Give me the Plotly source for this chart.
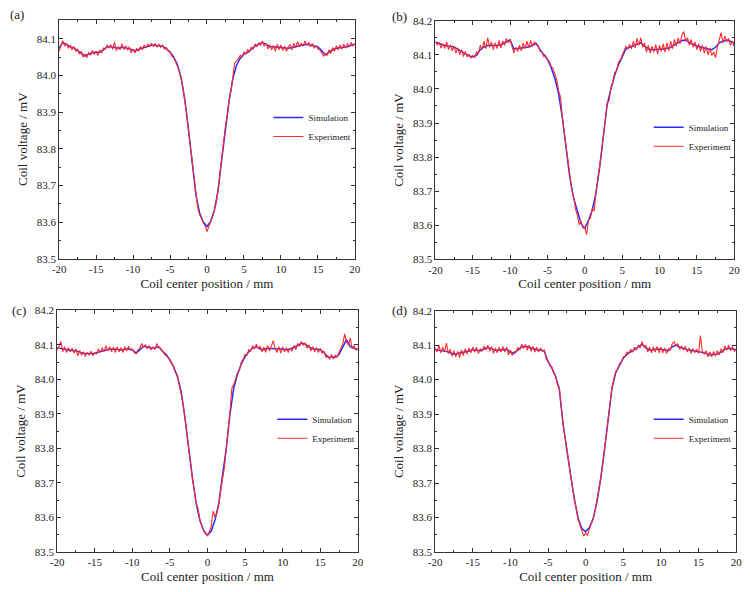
import plotly.graph_objects as go

# ---------------- data ----------------
sim_a = [84.074, 84.090, 84.085, 84.078, 84.075, 84.068, 84.060, 84.053,
         84.058, 84.062, 84.063, 84.063, 84.070, 84.078, 84.078, 84.077,
         84.074, 84.077, 84.076, 84.073, 84.068, 84.068, 84.073, 84.077,
         84.080, 84.083, 84.082, 84.081, 84.080, 84.073, 84.064, 84.050,
         84.030, 83.993, 83.935, 83.852, 83.758, 83.675, 83.625, 83.600,
         83.588, 83.602, 83.633, 83.685, 83.772, 83.858, 83.932, 83.992,
         84.028, 84.047, 84.058, 84.063, 84.072, 84.080, 84.085, 84.090,
         84.085, 84.078, 84.078, 84.076, 84.076, 84.075, 84.074, 84.076,
         84.079, 84.081, 84.083, 84.085, 84.083, 84.080, 84.078, 84.068,
         84.056, 84.063, 84.070, 84.074, 84.075, 84.076, 84.078, 84.082,
         84.085]
exp_a = [84.066, 84.084, 84.095, 84.080, 84.088, 84.074, 84.083, 84.070,
         84.079, 84.066, 84.072, 84.058, 84.066, 84.050, 84.058, 84.049,
         84.063, 84.055, 84.068, 84.057, 84.066, 84.055, 84.069, 84.061,
         84.075, 84.072, 84.083, 84.074, 84.084, 84.071, 84.090, 84.068,
         84.079, 84.070, 84.086, 84.071, 84.081, 84.069, 84.078, 84.062,
         84.072, 84.061, 84.074, 84.066, 84.079, 84.070, 84.083, 84.075,
         84.086, 84.078, 84.088, 84.079, 84.087, 84.077, 84.085, 84.076,
         84.083, 84.072, 84.076, 84.066, 84.066, 84.052, 84.048, 84.037,
         84.026, 84.014, 83.992, 83.968, 83.930, 83.898, 83.850, 83.806,
         83.758, 83.712, 83.668, 83.640, 83.620, 83.612, 83.598, 83.590,
         83.574, 83.588, 83.597, 83.615, 83.632, 83.652, 83.690, 83.728,
         83.780, 83.818, 83.862, 83.892, 83.935, 83.958, 83.996, 84.034,
         84.040, 84.045, 84.055, 84.050, 84.064, 84.058, 84.070, 84.064,
         84.078, 84.071, 84.086, 84.078, 84.090, 84.082, 84.094, 84.080,
         84.088, 84.072, 84.084, 84.070, 84.082, 84.066, 84.085, 84.070,
         84.083, 84.068, 84.080, 84.066, 84.078, 84.084, 84.070, 84.088,
         84.076, 84.092, 84.078, 84.088, 84.080, 84.094, 84.082, 84.090,
         84.078, 84.087, 84.074, 84.082, 84.072, 84.070, 84.062, 84.052,
         84.060, 84.055, 84.070, 84.060, 84.076, 84.066, 84.081, 84.070,
         84.083, 84.072, 84.086, 84.074, 84.087, 84.078, 84.090, 84.080,
         84.088]

sim_b = [84.137, 84.133, 84.128, 84.126, 84.125, 84.123, 84.116, 84.110,
         84.104, 84.097, 84.094, 84.098, 84.115, 84.123, 84.127, 84.127,
         84.126, 84.128, 84.132, 84.138, 84.144, 84.117, 84.118, 84.120,
         84.121, 84.123, 84.128, 84.133, 84.115, 84.100, 84.087, 84.062,
         84.030, 83.985, 83.915, 83.825, 83.740, 83.680, 83.640, 83.605,
         83.591, 83.615, 83.645, 83.695, 83.772, 83.870, 83.955, 84.000,
         84.040, 84.070, 84.095, 84.117, 84.122, 84.127, 84.130, 84.135,
         84.125, 84.117, 84.115, 84.115, 84.115, 84.117, 84.119, 84.121,
         84.130, 84.137, 84.142, 84.143, 84.136, 84.130, 84.126, 84.122,
         84.120, 84.117, 84.115, 84.122, 84.135, 84.140, 84.143, 84.140,
         84.135]
exp_b = [84.140, 84.128, 84.137, 84.120, 84.132, 84.118, 84.138, 84.115,
         84.130, 84.112, 84.125, 84.105, 84.120, 84.100, 84.115, 84.095,
         84.110, 84.094, 84.102, 84.090, 84.098, 84.092, 84.108, 84.105,
         84.128, 84.115, 84.140, 84.118, 84.150, 84.122, 84.138, 84.115,
         84.135, 84.118, 84.142, 84.120, 84.140, 84.128, 84.148, 84.135,
         84.145, 84.125, 84.105, 84.122, 84.110, 84.128, 84.112, 84.135,
         84.118, 84.140, 84.120, 84.142, 84.125, 84.138, 84.130, 84.126,
         84.110, 84.108, 84.095, 84.098, 84.085, 84.080, 84.066, 84.060,
         84.040, 84.026, 83.994, 83.975, 83.915, 83.872, 83.822, 83.780,
         83.733, 83.705, 83.685, 83.648, 83.630, 83.602, 83.612, 83.592,
         83.594, 83.573, 83.618, 83.622, 83.650, 83.642, 83.698, 83.730,
         83.775, 83.818, 83.872, 83.912, 83.958, 83.965, 84.005, 84.020,
         84.048, 84.052, 84.078, 84.085, 84.100, 84.112, 84.125, 84.118,
         84.130, 84.118, 84.140, 84.120, 84.148, 84.128, 84.150, 84.122,
         84.135, 84.108, 84.128, 84.105, 84.125, 84.108, 84.130, 84.102,
         84.128, 84.110, 84.132, 84.108, 84.135, 84.112, 84.140, 84.118,
         84.145, 84.125, 84.150, 84.132, 84.158, 84.168, 84.140, 84.150,
         84.128, 84.145, 84.122, 84.138, 84.115, 84.132, 84.110, 84.128,
         84.105, 84.125, 84.100, 84.120, 84.098, 84.108, 84.092, 84.122,
         84.140, 84.165, 84.135, 84.155, 84.138, 84.148, 84.128, 84.140,
         84.125]

sim_c = [84.092, 84.089, 84.087, 84.085, 84.084, 84.083, 84.079, 84.075,
         84.075, 84.075, 84.075, 84.079, 84.083, 84.085, 84.087, 84.088,
         84.087, 84.085, 84.087, 84.089, 84.086, 84.076, 84.085, 84.096,
         84.094, 84.091, 84.091, 84.095, 84.082, 84.072, 84.057, 84.036,
         84.008, 83.964, 83.890, 83.800, 83.715, 83.640, 83.590, 83.561,
         83.548, 83.560, 83.592, 83.640, 83.715, 83.800, 83.900, 83.975,
         84.015, 84.045, 84.066, 84.080, 84.090, 84.095, 84.088, 84.086,
         84.090, 84.090, 84.089, 84.088, 84.087, 84.086, 84.088, 84.092,
         84.098, 84.105, 84.102, 84.094, 84.089, 84.087, 84.086, 84.078,
         84.065, 84.064, 84.064, 84.072, 84.095, 84.115, 84.095, 84.090,
         84.086]
exp_c = [84.085, 84.098, 84.110, 84.080, 84.095, 84.078, 84.092, 84.080,
         84.090, 84.076, 84.088, 84.068, 84.084, 84.070, 84.080, 84.066,
         84.078, 84.070, 84.082, 84.068, 84.078, 84.074, 84.088, 84.078,
         84.092, 84.080, 84.098, 84.082, 84.095, 84.080, 84.093, 84.078,
         84.094, 84.080, 84.092, 84.078, 84.095, 84.082, 84.096, 84.084,
         84.088, 84.078, 84.074, 84.086, 84.090, 84.104, 84.094, 84.100,
         84.088, 84.098, 84.085, 84.094, 84.086, 84.104, 84.092, 84.090,
         84.080, 84.074, 84.068, 84.064, 84.055, 84.044, 84.036, 84.020,
         84.012, 83.985, 83.962, 83.930, 83.888, 83.848, 83.802, 83.755,
         83.712, 83.680, 83.640, 83.625, 83.592, 83.578, 83.560, 83.552,
         83.546, 83.558, 83.574, 83.618, 83.600, 83.612, 83.635, 83.675,
         83.712, 83.745, 83.798, 83.848, 83.908, 83.975, 83.985, 84.002,
         84.020, 84.026, 84.050, 84.058, 84.072, 84.070, 84.086, 84.082,
         84.098, 84.088, 84.102, 84.090, 84.096, 84.080, 84.094, 84.078,
         84.098, 84.082, 84.096, 84.112, 84.090, 84.078, 84.095, 84.076,
         84.094, 84.080, 84.092, 84.078, 84.090, 84.082, 84.098, 84.086,
         84.104, 84.096, 84.110, 84.098, 84.106, 84.090, 84.100, 84.082,
         84.095, 84.080, 84.092, 84.078, 84.090, 84.076, 84.082, 84.064,
         84.068, 84.058, 84.072, 84.060, 84.070, 84.064, 84.078, 84.090,
         84.102, 84.132, 84.108, 84.100, 84.120, 84.090, 84.098, 84.085,
         84.092]

sim_d = [84.087, 84.086, 84.085, 84.082, 84.078, 84.074, 84.076, 84.078,
         84.080, 84.083, 84.087, 84.086, 84.084, 84.089, 84.093, 84.090,
         84.085, 84.085, 84.087, 84.088, 84.080, 84.076, 84.086, 84.095,
         84.097, 84.094, 84.089, 84.087, 84.086, 84.083, 84.052, 84.034,
         84.010, 83.972, 83.872, 83.790, 83.722, 83.655, 83.597, 83.568,
         83.559, 83.571, 83.597, 83.645, 83.712, 83.795, 83.893, 83.975,
         84.020, 84.041, 84.062, 84.074, 84.080, 84.087, 84.095, 84.103,
         84.092, 84.086, 84.087, 84.089, 84.088, 84.086, 84.084, 84.095,
         84.100, 84.094, 84.090, 84.087, 84.085, 84.083, 84.082, 84.081,
         84.077, 84.072, 84.073, 84.074, 84.080, 84.088, 84.091, 84.089,
         84.087]
exp_d = [84.092, 84.080, 84.100, 84.078, 84.094, 84.080, 84.106, 84.076,
         84.088, 84.068, 84.084, 84.066, 84.082, 84.064, 84.086, 84.070,
         84.090, 84.074, 84.092, 84.078, 84.095, 84.080, 84.094, 84.076,
         84.090, 84.082, 84.098, 84.086, 84.100, 84.082, 84.096, 84.076,
         84.092, 84.078, 84.094, 84.080, 84.096, 84.080, 84.094, 84.072,
         84.086, 84.070, 84.080, 84.082, 84.094, 84.086, 84.103, 84.090,
         84.102, 84.086, 84.100, 84.082, 84.096, 84.080, 84.094, 84.080,
         84.092, 84.082, 84.086, 84.060, 84.056, 84.040, 84.038, 84.018,
         84.012, 83.985, 83.978, 83.920, 83.870, 83.835, 83.790, 83.760,
         83.725, 83.685, 83.652, 83.625, 83.594, 83.578, 83.562, 83.546,
         83.556, 83.548, 83.568, 83.580, 83.596, 83.618, 83.648, 83.680,
         83.715, 83.752, 83.798, 83.845, 83.898, 83.938, 83.978, 84.002,
         84.024, 84.030, 84.046, 84.052, 84.066, 84.068, 84.080, 84.076,
         84.088, 84.080, 84.094, 84.086, 84.100, 84.092, 84.110, 84.094,
         84.100, 84.080, 84.094, 84.078, 84.095, 84.080, 84.096, 84.078,
         84.094, 84.078, 84.092, 84.076, 84.090, 84.084, 84.104, 84.110,
         84.098, 84.104, 84.088, 84.098, 84.086, 84.096, 84.080, 84.092,
         84.076, 84.090, 84.078, 84.088, 84.076, 84.128, 84.082, 84.074,
         84.084, 84.066, 84.080, 84.066, 84.082, 84.068, 84.084, 84.072,
         84.090, 84.078, 84.098, 84.086, 84.100, 84.084, 84.096, 84.082,
         84.090]

x_sim = [round(-20 + 0.5 * i, 2) for i in range(len(sim_a))]
x_exp = [round(-20 + 0.25 * i, 2) for i in range(len(exp_a))]

x_tick_vals = [-20, -15, -10, -5, 0, 5, 10, 15, 20]
x_tick_text = ["-20", "-15", "-10", "-5", "0", "5", "10", "15", "20"]
panel_labels = ["(a)", "(b)", "(c)", "(d)"]
series_names = ["Simulation", "Experiment"]
y_tops = [84.152, 84.2, 84.2, 84.2]

sims = [sim_a, sim_b, sim_c, sim_d]
exps = [exp_a, exp_b, exp_c, exp_d]

# ---------------- layout geometry (pixels) ----------------
W, H = 750, 592
boxes = [  # left, right, top, bottom
    (53, 354, 14, 258),
    (436, 740, 15, 258.7),
    (51, 357, 310.7, 557),
    (435.7, 742, 311, 557.3),
]
label_pos = [(10, 9), (399, 11), (12, 311), (399, 311)]
legend_pos = [(266, 99), (653, 109), (270, 407), (653, 407)]

FONT = "Liberation Serif"
BLUE = "#2a2aff"
RED = "#ff2a2a"

fig = go.Figure()
layout = dict(
    width=W, height=H,
    margin=dict(l=0, r=0, t=0, b=0),
    paper_bgcolor="white", plot_bgcolor="white",
    font=dict(family=FONT, size=11, color="#222"),
    annotations=[],
)

for i in range(4):
    s = "" if i == 0 else str(i + 1)
    leg = "legend" if i == 0 else f"legend{i + 1}"
    fig.add_trace(go.Scatter(x=x_sim, y=sims[i], mode="lines", name=series_names[0],
                             line=dict(color=BLUE, width=1.5),
                             xaxis="x" + s, yaxis="y" + s, legend=leg))
    fig.add_trace(go.Scatter(x=x_exp, y=exps[i], mode="lines", name=series_names[1],
                             line=dict(color=RED, width=1.1),
                             xaxis="x" + s, yaxis="y" + s, legend=leg))
    l, r, t, b = boxes[i]
    common = dict(showgrid=False, zeroline=False, showline=True, linecolor="#333",
                  linewidth=1, mirror="allticks", ticks="inside", ticklen=4,
                  tickcolor="#333", tickwidth=1,
                  tickfont=dict(family=FONT, size=11, color="#222"))
    layout["xaxis" + s] = dict(
        domain=[l / W, r / W], anchor="y" + s, range=[-20, 20],
        tickmode="array", tickvals=x_tick_vals, ticktext=x_tick_text,
        minor=dict(tickmode="linear", tick0=-20, dtick=2.5, ticklen=2,
                   ticks="inside", tickcolor="#333"),
        title=dict(text="Coil center position / mm",
                   font=dict(family=FONT, size=13, color="#222"), standoff=4),
        **common)
    layout["yaxis" + s] = dict(
        domain=[1 - b / H, 1 - t / H], anchor="x" + s, range=[83.5, y_tops[i]],
        tickmode="linear", tick0=83.5, dtick=0.1, tickformat=".1f",
        minor=dict(tickmode="linear", tick0=83.5, dtick=0.05, ticklen=2,
                   ticks="inside", tickcolor="#333"),
        title=dict(text="Coil voltage / mV",
                   font=dict(family=FONT, size=13, color="#222"), standoff=6),
        **common)
    lx, ly = legend_pos[i]
    layout[leg] = dict(x=lx / W, y=1 - ly / H, xanchor="left", yanchor="top",
                       bgcolor="rgba(0,0,0,0)", borderwidth=0,
                       font=dict(family=FONT, size=9, color="#222"),
                       tracegroupgap=0)
    px, py = label_pos[i]
    layout["annotations"].append(dict(
        text=panel_labels[i], x=px / W, y=1 - py / H, xref="paper", yref="paper",
        showarrow=False, xanchor="center", yanchor="middle",
        font=dict(family=FONT, size=13, color="#222")))

fig.update_layout(**layout)
fig.write_html("out.html")
